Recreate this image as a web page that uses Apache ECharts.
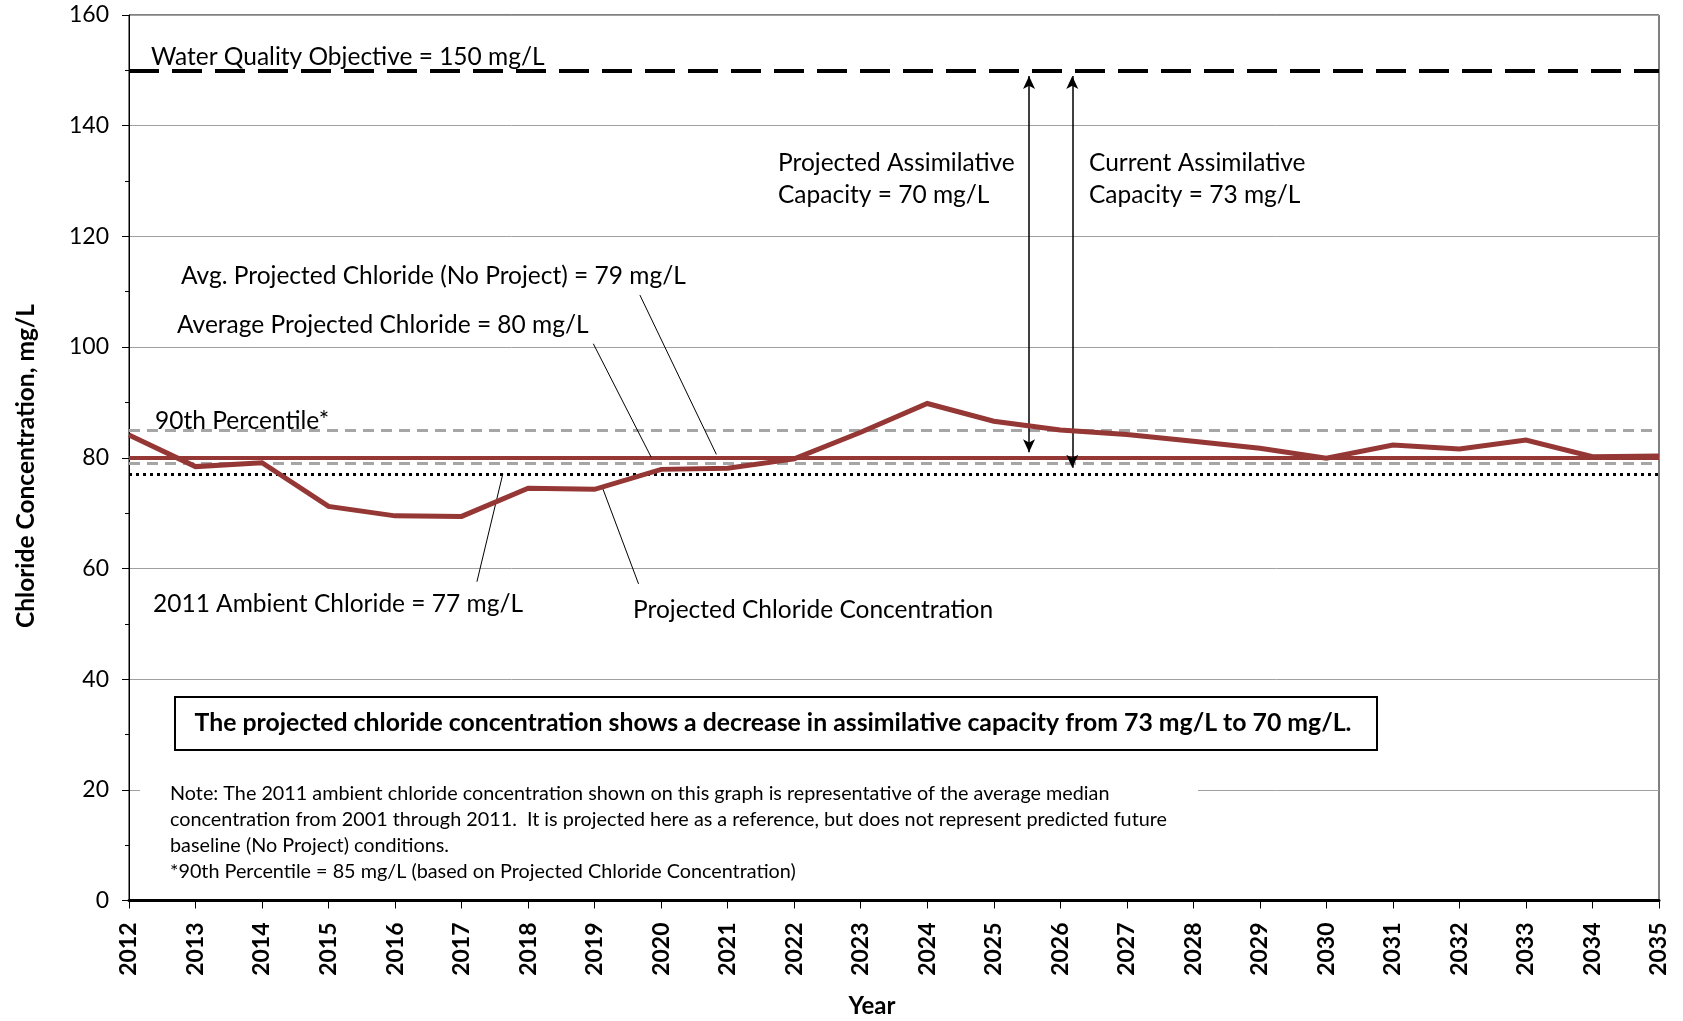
<!DOCTYPE html>
<html>
<head>
<meta charset="utf-8">
<script src="https://cdn.jsdelivr.net/npm/echarts@6/dist/echarts.min.js"></script>
<style>
html,body{margin:0;padding:0;background:#fff;}
#chart{width:1683px;height:1021px;}
</style>
</head>
<body>
<div id="chart"></div>
<script>
const years = ['2012','2013','2014','2015','2016','2017','2018','2019','2020','2021','2022','2023',
  '2024','2025','2026','2027','2028','2029','2030','2031','2032','2033','2034','2035'];
const projectedChloride = [84.1,78.4,79.1,71.2,69.5,69.4,74.5,74.3,77.9,78.1,79.8,84.6,
  89.8,86.6,85.0,84.2,83.0,81.7,79.9,82.3,81.6,83.2,80.2,80.3];
const waterQualityObjective = 150;
const avgProjected = 80;
const avgNoProject = 79;
const percentile90 = 85;
const ambient2011 = 77;
const yMin = 0, yMax = 160, yStep = 20;

// annotation geometry in data units (year, mg/L)
const arrowProjected = [[2025.53, 149], [2025.53, 81]];
const arrowCurrent = [[2026.18, 149], [2026.18, 78.2]];
const leaderNoProject = [[2019.68, 109.4], [2020.83, 80.6]];
const leaderAvg = [[2018.98, 100.6], [2019.85, 80.1]];
const leaderAmbient = [[2017.62, 77.1], [2017.23, 57.6]];
const leaderProjected = [[2019.12, 74.5], [2019.66, 57.2]];

const FONT = 'Lato';
const red = '#953735';
const ANN = '24.5px Lato';

const chart = echarts.init(document.getElementById('chart'));

function seg(p) {
  return [{coord: p[0]}, {coord: p[1]}];
}
function hline(v, style) {
  return {
    type: 'line', xAxisIndex: 0, yAxisIndex: 0, data: [], silent: true,
    markLine: {silent: true, symbol: 'none', animation: false, label: {show: false},
      lineStyle: style, emphasis: {disabled: true},
      data: [{yAxis: v}]}
  };
}
function txt(text, x, y, extra) {
  return {type: 'text', z: 60, style: Object.assign({text: text, x: x, y: y, font: ANN, fill: '#000', textVerticalAlign: 'middle'}, extra || {})};
}

const option = {
  animation: false,
  backgroundColor: '#fff',
  textStyle: {fontFamily: FONT, color: '#000'},
  grid: {left: 129, right: 24, top: 15, bottom: 120.5, show: true, borderColor: '#000', borderWidth: 1, containLabel: false},
  xAxis: [{
    type: 'category', data: years, boundaryGap: false,
    axisLine: {lineStyle: {color: '#000', width: 3}},
    axisTick: {show: true, length: 8, lineStyle: {color: '#000', width: 1}},
    axisLabel: {rotate: 90, fontFamily: FONT, fontSize: 23, fontWeight: 'bold', color: '#000', margin: 22, interval: 0},
    splitLine: {show: false}
  }, {
    type: 'value', min: 2012, max: 2035, show: false
  }],
  yAxis: {
    type: 'value', min: yMin, max: yMax, interval: yStep,
    axisLine: {show: true, lineStyle: {color: '#000', width: 1}},
    axisTick: {show: true, length: 7, lineStyle: {color: '#000'}},
    minorTick: {show: true, splitNumber: 2, length: 4, lineStyle: {color: '#000'}},
    axisLabel: {fontFamily: FONT, fontSize: 23, color: '#000', margin: 20},
    splitLine: {show: true, lineStyle: {color: '#a0a0a0', width: 1}}
  },
  graphic: [
    {type: 'text', z: 100, style: {text: '2012-2035', x: 877, y: -8, font: 'bold 24px Lato', fill: '#000', textAlign: 'center', textVerticalAlign: 'middle'}},
    {type: 'rect', shape: {x: 140, y: 779, width: 1058, height: 108}, style: {fill: '#fff'}, z: 50},
    txt('Note: The 2011 ambient chloride concentration shown on this graph is representative of the average median', 170, 794, {font: '19.8px Lato'}),
    txt('concentration from 2001 through 2011.  It is projected here as a reference, but does not represent predicted future', 170, 820, {font: '19.8px Lato'}),
    txt('baseline (No Project) conditions.', 170, 846, {font: '19.8px Lato'}),
    txt('*90th Percentile = 85 mg/L (based on Projected Chloride Concentration)', 170, 872, {font: '19.8px Lato'}),
    {type: 'rect', shape: {x: 175, y: 697, width: 1202, height: 53}, style: {fill: '#fff', stroke: '#000', lineWidth: 2}, z: 50},
    txt('The projected chloride concentration shows a decrease in assimilative capacity from 73 mg/L to 70 mg/L.', 773, 723.5, {font: 'bold 24.8px Lato', textAlign: 'center'}),
    txt('Water Quality Objective = 150 mg/L', 151, 57),
    txt('Projected Assimilative\nCapacity = 70 mg/L', 778, 179, {lineHeight: 32}),
    txt('Current Assimilative\nCapacity = 73 mg/L', 1089, 179, {lineHeight: 32}),
    txt('Avg. Projected Chloride (No Project) = 79 mg/L', 181, 276),
    txt('Average Projected Chloride = 80 mg/L', 177, 325),
    txt('90th Percentile*', 155, 421),
    txt('2011 Ambient Chloride = 77 mg/L', 153, 604),
    txt('Projected Chloride Concentration', 633, 610),
    {type: 'text', z: 60, x: 26, y: 466, rotation: Math.PI / 2, style: {text: 'Chloride Concentration, mg/L', x: 0, y: 0, font: 'bold 24.5px Lato', fill: '#000', textAlign: 'center', textVerticalAlign: 'middle'}},
    txt('Year', 872, 1006, {font: 'bold 24px Lato', textAlign: 'center'})
  ],
  series: [
    Object.assign(hline(percentile90, {color: '#a6a6a6', width: 3, type: [11, 7]}), {z: 2}),
    Object.assign(hline(avgProjected, {color: red, width: 4, type: 'solid'}), {z: 3}),
    Object.assign(hline(avgNoProject, {color: '#a6a6a6', width: 3, type: [11, 7]}), {z: 4}),
    Object.assign(hline(ambient2011, {color: '#000', width: 3, type: [3, 4]}), {z: 4}),
    Object.assign(hline(waterQualityObjective, {color: '#000', width: 4, type: [30, 13]}), {z: 4}),
    {
      type: 'line', name: 'Projected Chloride Concentration', xAxisIndex: 0, yAxisIndex: 0,
      data: projectedChloride, symbol: 'none', smooth: false,
      lineStyle: {color: red, width: 5, join: 'miter'}, itemStyle: {color: red}, z: 5
    },
    {
      type: 'line', xAxisIndex: 1, yAxisIndex: 0, data: [], silent: true, z: 6,
      markLine: {silent: true, animation: false, symbol: 'none', label: {show: false},
        lineStyle: {color: '#000', width: 1, type: 'solid'},
        data: [seg(leaderNoProject), seg(leaderAvg), seg(leaderAmbient), seg(leaderProjected)]}
    },
    {
      type: 'line', xAxisIndex: 1, yAxisIndex: 0, data: [], silent: true, z: 7,
      markLine: {silent: true, animation: false, symbol: ['arrow', 'arrow'], symbolSize: [9, 13], label: {show: false},
        lineStyle: {color: '#000', width: 1.5, type: 'solid'}, itemStyle: {color: '#000'},
        data: [seg(arrowProjected), seg(arrowCurrent)]}
    }
  ]
};
chart.setOption(option);
</script>
</body>
</html>
